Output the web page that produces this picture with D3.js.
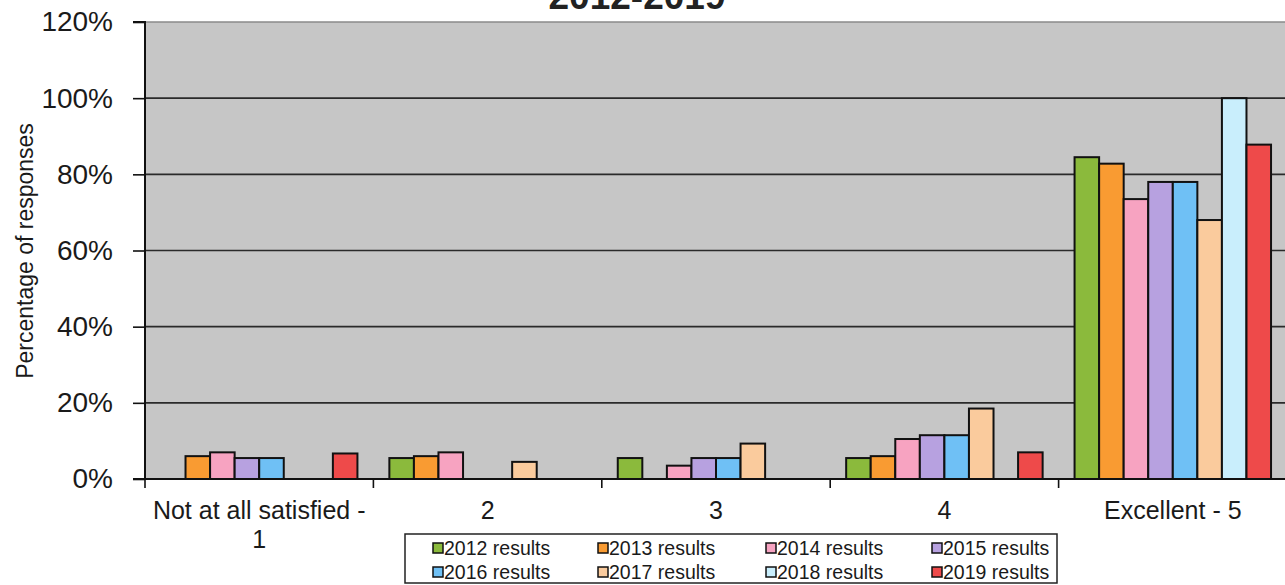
<!DOCTYPE html>
<html>
<head>
<meta charset="utf-8">
<script src="https://cdn.jsdelivr.net/npm/d3@7"></script>
<style>
  html, body { margin: 0; padding: 0; background: #ffffff; }
  svg { display: block; font-family: "Liberation Sans", Arial, sans-serif; }
</style>
</head>
<body>
<svg id="chart" width="1285" height="585"></svg>
<script>
// Satisfaction ratings by survey year
const categories = ["Not at all satisfied - 1", "2", "3", "4", "Excellent - 5"];
const categoryLines = [["Not at all satisfied -", "1"], ["2"], ["3"], ["4"], ["Excellent - 5"]];
const seriesNames = ["2012 results", "2013 results", "2014 results", "2015 results",
                     "2016 results", "2017 results", "2018 results", "2019 results"];
const seriesColors = ["#8bba3c", "#f99b32", "#f7a3c1", "#b7a1e0",
                      "#6fc0f5", "#facb9d", "#c9eefc", "#ee4a4a"];
// percentage of responses per series, one entry per category
const results2012 = [0, 5.5, 5.5, 5.5, 84.5];
const results2013 = [6, 6, 0, 6, 82.8];
const results2014 = [7, 7, 3.5, 10.5, 73.5];
const results2015 = [5.5, 0, 5.5, 11.5, 78];
const results2016 = [5.5, 0, 5.5, 11.5, 78];
const results2017 = [0, 4.5, 9.3, 18.5, 68];
const results2018 = [0, 0, 0, 0, 100];
const results2019 = [6.7, 0, 0, 7, 87.8];
const seriesValues = [results2012, results2013, results2014, results2015,
                      results2016, results2017, results2018, results2019];
const yTicks = [0, 20, 40, 60, 80, 100, 120];

const svg = d3.select("#chart");
const plot = { left: 145, right: 1287, top: 22, bottom: 479 };

const x0 = d3.scaleBand().domain(categories).range([plot.left, plot.right]).padding(0);
const gap = x0.bandwidth() * 1.3 / 9.3;
const x1 = d3.scaleBand().domain(seriesNames)
  .range([gap / 2, x0.bandwidth() - gap / 2]).padding(0);
const y = d3.scaleLinear().domain([0, 120]).range([plot.bottom, plot.top]);

// plot background
svg.append("rect")
  .attr("x", plot.left).attr("y", plot.top)
  .attr("width", plot.right - plot.left).attr("height", plot.bottom - plot.top)
  .attr("fill", "#c6c6c6");

// gridlines
svg.append("g").selectAll("line")
  .data(yTicks.filter(t => t > 0))
  .join("line")
  .attr("x1", plot.left).attr("x2", plot.right)
  .attr("y1", d => y(d)).attr("y2", d => y(d))
  .attr("stroke", d => d === 120 ? "#8a8a8a" : "#2a2a2a")
  .attr("stroke-width", 1.6);

// bars
const groups = svg.append("g").selectAll("g")
  .data(categories)
  .join("g")
  .attr("transform", d => `translate(${x0(d)},0)`);

groups.selectAll("rect")
  .data((c, ci) => seriesNames.map((s, si) => ({ s, si, v: seriesValues[si][ci] })).filter(d => d.v > 0))
  .join("rect")
  .attr("x", d => x1(d.s))
  .attr("y", d => y(d.v))
  .attr("width", x1.bandwidth())
  .attr("height", d => y(0) - y(d.v))
  .attr("fill", d => seriesColors[d.si])
  .attr("stroke", "#111")
  .attr("stroke-width", 2);

// y axis
const yAxis = d3.axisLeft(y).tickValues(yTicks).tickSize(12).tickPadding(20)
  .tickFormat(d => d + "%");
const yg = svg.append("g").attr("transform", `translate(${plot.left},0)`).call(yAxis);
yg.select(".domain").attr("stroke", "#111").attr("stroke-width", 2)
  .attr("d", `M-12,${plot.top}H0V${plot.bottom}`);
yg.selectAll(".tick line").attr("stroke", "#111").attr("stroke-width", 1.6);
yg.selectAll(".tick text")
  .attr("font-size", 28).attr("fill", "#1a1a1a")
  .attr("font-family", "Liberation Sans, Arial, sans-serif");

// x axis
const xAxis = d3.axisBottom(x0).tickSize(0).tickFormat("");
const xg = svg.append("g").attr("transform", `translate(0,${plot.bottom})`).call(xAxis);
xg.select(".domain").attr("stroke", "#111").attr("stroke-width", 2)
  .attr("d", `M${plot.left - 12},0H${plot.right}`);
xg.selectAll(".boundary")
  .data(categories.map(c => x0(c)).concat([plot.right]))
  .join("line").attr("class", "boundary")
  .attr("x1", d => d).attr("x2", d => d)
  .attr("y1", 0).attr("y2", 9)
  .attr("stroke", "#111").attr("stroke-width", 1.6);

// category labels
const catLabels = svg.append("g").selectAll("text")
  .data(categories)
  .join("text")
  .attr("x", d => x0(d) + x0.bandwidth() / 2)
  .attr("y", 519)
  .attr("text-anchor", "middle")
  .attr("font-size", 25)
  .attr("fill", "#1a1a1a");
catLabels.selectAll("tspan")
  .data((d, i) => categoryLines[i])
  .join("tspan")
  .attr("x", function () { return d3.select(this.parentNode).attr("x"); })
  .attr("dy", (d, i) => i === 0 ? 0 : 29)
  .text(d => d);

// y axis title
svg.append("text")
  .attr("transform", "translate(33,251) rotate(-90)")
  .attr("text-anchor", "middle")
  .attr("font-size", 23)
  .attr("fill", "#1a1a1a")
  .text("Percentage of responses");

// title (upper lines fall outside the visible area)
svg.append("text")
  .attr("x", 637).attr("y", 9)
  .attr("text-anchor", "middle")
  .attr("font-size", 37)
  .attr("font-weight", "bold")
  .attr("fill", "#222")
  .text("2012-2019");

// legend
const legend = svg.append("g");
legend.append("rect")
  .attr("x", 405).attr("y", 534).attr("width", 652).attr("height", 49)
  .attr("fill", "#fff").attr("stroke", "#222").attr("stroke-width", 1.5);
const colX = [433, 598, 766, 932];
const rowY = [548, 572];
const items = legend.selectAll("g.item")
  .data(seriesNames)
  .join("g").attr("class", "item")
  .attr("transform", (d, i) => `translate(${colX[i % 4]},${rowY[Math.floor(i / 4)]})`);
items.append("rect")
  .attr("x", 0).attr("y", -5).attr("width", 10).attr("height", 10)
  .attr("fill", (d, i) => seriesColors[i])
  .attr("stroke", "#111").attr("stroke-width", 1.5);
items.append("text")
  .attr("x", 11).attr("y", 7)
  .attr("font-size", 19.5)
  .attr("fill", "#1a1a1a")
  .text(d => d);
</script>
</body>
</html>
